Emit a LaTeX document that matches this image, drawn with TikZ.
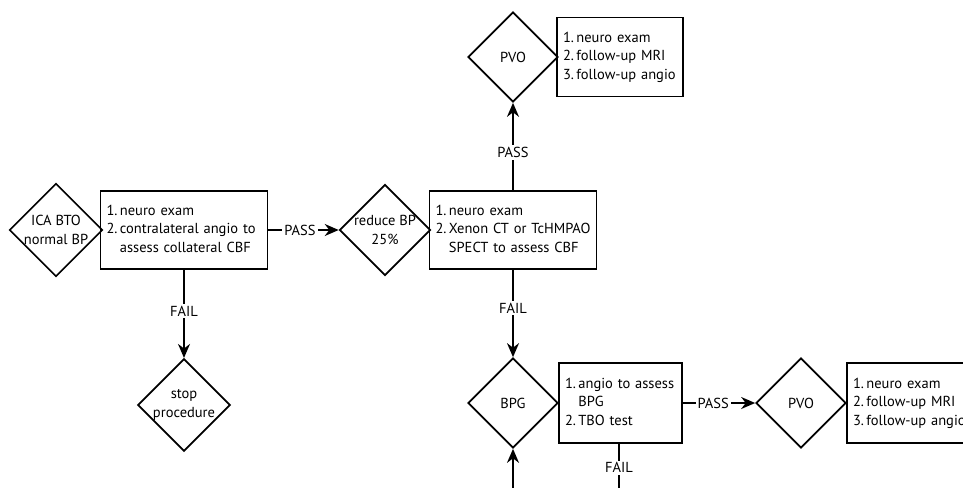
\documentclass[tikz,border=0pt]{standalone}
\usepackage{fontspec}
\setsansfont{PT Sans}
\renewcommand{\familydefault}{\sfdefault}
\usetikzlibrary{shapes.geometric,arrows.meta}

\begin{document}
\begin{tikzpicture}[x=1pt,y=-1pt,line width=1.7pt,
    font=\fontsize{14.5}{18.5}\selectfont,
    dia/.style={diamond,draw,aspect=1,inner sep=0pt,minimum width=90pt,
      minimum height=90pt,align=center},
    box/.style={rectangle,draw,inner xsep=6pt,inner ysep=0pt,align=left},
    lbl/.style={fill=white,inner sep=2pt},
    arr/.style={-{Stealth[length=14pt,width=12pt]}}]
        \useasboundingbox (0,0) rectangle (963,487);
        \clip (0,0) rectangle (963,487);
        \fill [white] (0,0) rectangle (963,487);
        % first row
        \node [dia] (icabto) at (56,230) {ICA BTO\\normal BP};
        \node [box,text width=155pt,minimum height=78pt] (exam1) at (184,230)
          {\begin{tabular}{@{}l@{\,}l@{}}1.&neuro exam\\2.&contralateral angio to\\
           &assess collateral CBF\end{tabular}};
        \node [dia] (reduce) at (385,230) {reduce BP\\25\%};
        \node [box,text width=155pt,minimum height=78pt] (exam2) at (513,230)
          {\begin{tabular}{@{}l@{\,}l@{}}1.&neuro exam\\2.&Xenon CT or TcHMPAO\\
           &SPECT to assess CBF\end{tabular}};
        \node [dia] (stop) at (184,405) {stop\\procedure};
        % upper branch
        \node [dia] (pvoa) at (513,57) {PVO};
        \node [box,text width=114pt,minimum height=79pt] (follow1) at (620,57)
          {\begin{tabular}{@{}l@{\,}l@{}}1.&neuro exam\\2.&follow-up MRI\\
           3.&follow-up angio\end{tabular}};
        % lower branch
        \node [dia] (bpg) at (513,403) {BPG};
        \node [box,text width=111pt,minimum height=80pt] (angio) at (620.5,403)
          {\begin{tabular}{@{}l@{\,}l@{}}1.&angio to assess\\&BPG\\
           2.&TBO test\end{tabular}};
        \node [dia] (pvob) at (801,403) {PVO};
        \node [box,text width=114pt,minimum height=80pt] (follow2) at (910,403)
          {\begin{tabular}{@{}l@{\,}l@{}}1.&neuro exam\\2.&follow-up MRI\\
           3.&follow-up angio\end{tabular}};
        \coordinate (below1) at (513,510);
        \coordinate (below2) at (619,510);
        \draw [arr] (exam1.east) -- node [lbl,pos=0.45] {PASS} (reduce.west);
        \draw [arr] (exam1.south) -- node [lbl,pos=0.47] {FAIL} (stop.north);
        \draw [arr] (exam2.north) -- node [lbl,pos=0.43] {PASS} (pvoa.south);
        \draw [arr] (exam2.south) -- node [lbl,pos=0.44] {FAIL} (bpg.north);
        \draw [arr] (angio.east) -- node [lbl,pos=0.42] {PASS} (pvob.west);
        \draw [arr] (below1) -- (bpg.south);
        \draw (angio.south -| below2) -- node [lbl,pos=0.36] {FAIL} (below2);
\end{tikzpicture}
\end{document}
